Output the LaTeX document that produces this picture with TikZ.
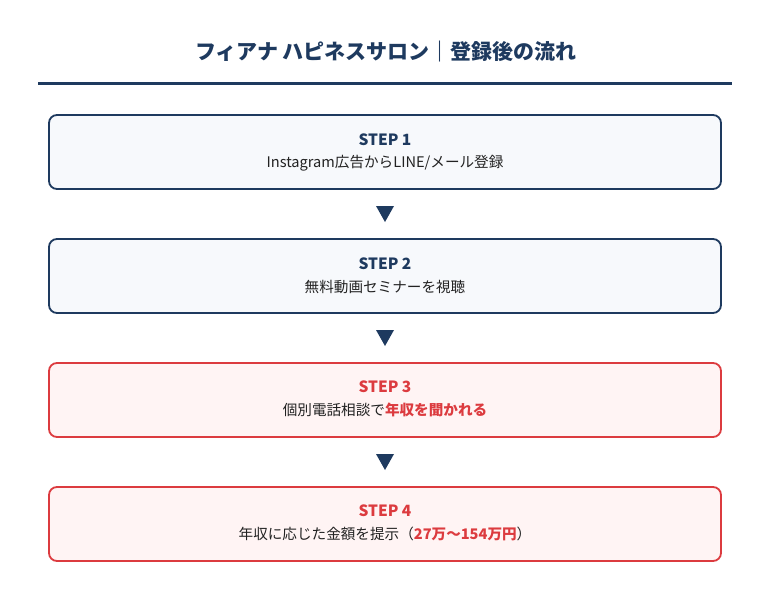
\documentclass[tikz,border=0pt]{standalone}
\usepackage{fontspec}
\setmainfont{Noto Sans CJK JP}
\definecolor{navy}{HTML}{1E3A5F}
\definecolor{navyfill}{HTML}{F7F9FC}
\definecolor{redc}{HTML}{DC3B3F}
\definecolor{redfill}{HTML}{FFF4F4}
\definecolor{txt}{HTML}{222222}
\begin{document}
\begin{tikzpicture}[x=1pt,y=-1pt,
  stepbox/.style={draw=navy,fill=navyfill,line width=1.8pt,rounded corners=8pt,minimum width=672pt,minimum height=74pt,inner sep=0pt},
  redbox/.style={draw=redc,fill=redfill,line width=1.8pt,rounded corners=8pt,minimum width=672pt,minimum height=74pt,inner sep=0pt},
  steplabel/.style={font=\bfseries\fontsize{15.5}{18}\selectfont,inner sep=0pt},
  bodylabel/.style={font=\fontsize{14.6}{17}\selectfont,text=txt,inner sep=0pt},
  tri/.style={fill=navy,draw=none}
]
\useasboundingbox (0,0) rectangle (771,600);
\fill[white] (0,0) rectangle (771,600);
\node[font=\bfseries\fontsize{21}{24}\selectfont,text=navy] (title) at (386,52) {フィアナ ハピネスサロン｜登録後の流れ};
\draw[navy,line width=3pt] (38,83) coordinate (rl) -- (732,83) coordinate (rr);

\node[stepbox] (b1) at (385,152) {};
\node[steplabel,text=navy] (s1) at (385,140) {STEP 1};
\node[bodylabel] (t1) at (385,163) {Instagram広告からLINE/メール登録};

\node[stepbox] (b2) at (385,276) {};
\node[steplabel,text=navy] (s2) at (385,264) {STEP 2};
\node[bodylabel] (t2) at (385,287) {無料動画セミナーを視聴};

\node[redbox] (b3) at (385,400) {};
\node[steplabel,text=redc] (s3) at (385,387) {STEP 3};
\node[bodylabel] (t3) at (385,410) {個別電話相談で\textcolor{redc}{\bfseries 年収を聞かれる}};

\node[redbox] (b4) at (385,524) {};
\node[steplabel,text=redc] (s4) at (385,511) {STEP 4};
\node[bodylabel] (t4) at (385,534) {年収に応じた金額を提示（\textcolor{redc}{\bfseries 27万〜154万円}）};

\fill[navy] (376,206) coordinate (a1) -- (394,206) -- (385,222) -- cycle;
\fill[navy] (376,330) coordinate (a2) -- (394,330) -- (385,346) -- cycle;
\fill[navy] (376,454) coordinate (a3) -- (394,454) -- (385,470) -- cycle;
\end{tikzpicture}
\end{document}
